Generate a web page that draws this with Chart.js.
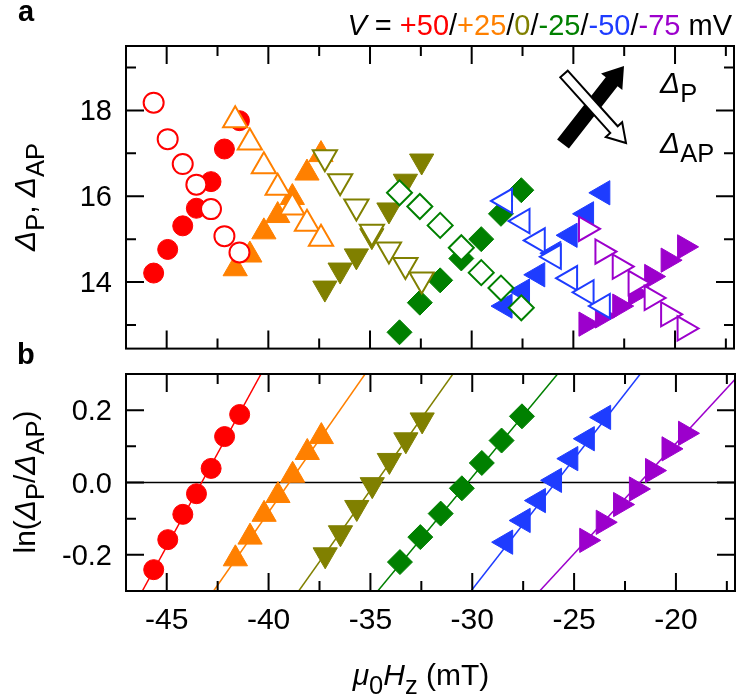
<!DOCTYPE html>
<html>
<head>
<meta charset="utf-8">
<script src="https://cdn.jsdelivr.net/npm/chart.js@4.4.0/dist/chart.umd.min.js"></script>
<style>
  body { margin: 0; background: #fff; width: 750px; height: 698px; position: relative; overflow: hidden;
         font-family: "Liberation Sans", Arial, sans-serif; color: #000; }
  canvas { position: absolute; left: 0; }
  #chartA { top: 0; }
  #chartB { top: 340px; }
  .t { position: absolute; white-space: nowrap; font-size: 30px; line-height: 1; }
  .t sub { font-size: 0.85em; vertical-align: -0.35em; line-height: 0; }
  .rot { transform: translate(-50%, -50%) rotate(-90deg); }
</style>
</head>
<body>
<canvas id="chartA" width="750" height="380"></canvas>
<canvas id="chartB" width="750" height="358"></canvas>

<div class="t" style="left:18px; top:-3px; font-weight:bold; font-size:29px;">a</div>
<div class="t" style="left:17px; top:340px; font-weight:bold; font-size:29px;">b</div>
<div class="t" style="right:18px; top:11px; font-size:29px;"><i>V</i> = <span style="color:#ff0000">+50</span>/<span style="color:#ff8000">+25</span>/<span style="color:#808000">0</span>/<span style="color:#008000">-25</span>/<span style="color:#1e3cff">-50</span>/<span style="color:#9c00cc">-75</span> mV</div>
<div class="t" style="left:660px; top:68px;"><i>Δ</i><sub>P</sub></div>
<div class="t" style="left:660px; top:128px;"><i>Δ</i><sub>AP</sub></div>
<div class="t rot" style="left:25px; top:197px;"><i>Δ</i><sub>P</sub>, <i>Δ</i><sub>AP</sub></div>
<div class="t rot" style="left:25px; top:482px;">ln(<i>Δ</i><sub>P</sub>/<i>Δ</i><sub>AP</sub>)</div>
<div class="t" style="left:421px; top:660px; transform:translateX(-50%);"><i>μ</i><sub>0</sub><i>H</i><sub>z</sub> (mT)</div>

<script>
// axis ticks
const xTicks = [-45, -40, -35, -30, -25, -20];
const xMinor = [-42.5, -37.5, -32.5, -27.5, -22.5, -17.5];
const yTicksA = [14, 16, 18];
const yMinorA = [13, 15, 17, 19];
const yTicksB = [-0.2, 0.0, 0.2];
const yMinorB = [-0.1, 0.1];

// bias voltages V = +50 / +25 / 0 / -25 / -50 / -75 mV
const voltages = ['+50', '+25', '0', '-25', '-50', '-75'];
const colors = ['#ff0000', '#ff8000', '#808000', '#008000', '#1e3cff', '#9c00cc'];
const shapes = ['circle', 'triangle', 'triangle', 'rectRot', 'triangle', 'triangle'];
const rotations = [0, 0, 180, 0, -90, 90];
const radii = [10, 14, 14, 12.5, 14, 14];

// mu0 Hz (mT)
const field50 = [-45.64, -44.95, -44.21, -43.54, -42.82, -42.16, -41.42];
const field25 = [-41.63, -40.91, -40.22, -39.54, -38.82, -38.10, -37.41];
const field0 = [-37.22, -36.47, -35.67, -34.91, -34.07, -33.26, -32.46];
const fieldM25 = [-33.55, -32.55, -31.55, -30.51, -29.53, -28.56, -27.56];
const fieldM50 = [-28.36, -27.50, -26.75, -25.96, -25.16, -24.35, -23.55];
const fieldM75 = [-24.38, -23.57, -22.72, -21.94, -21.15, -20.34, -19.53];

// Delta_P (filled)
const dP50 = [14.21, 14.76, 15.31, 15.72, 16.34, 17.10, 17.76];
const dP25 = [14.31, 14.63, 15.17, 15.55, 15.97, 16.54, 16.97];
const dP0 = [13.86, 14.28, 14.61, 15.08, 15.68, 16.35, 16.82];
const dPM25 = [12.83, 13.52, 14.04, 14.55, 15.00, 15.59, 16.14];
const dPM50 = [13.44, 13.79, 14.17, 14.67, 15.09, 15.59, 16.08];
const dPM75 = [13.02, 13.21, 13.44, 13.73, 14.13, 14.51, 14.82];

// Delta_AP (open)
const dAP50 = [18.18, 17.33, 16.75, 16.27, 15.70, 15.07, 14.69];
const dAP25 = [17.77, 17.25, 16.70, 16.20, 15.74, 15.36, 15.01];
const dAP0 = [16.91, 16.35, 15.76, 15.17, 14.76, 14.40, 14.06];
const dAPM25 = [16.08, 15.76, 15.32, 14.80, 14.22, 13.86, 13.40];
const dAPM50 = [15.89, 15.42, 14.97, 14.59, 14.09, 13.76, 13.44];
const dAPM75 = [15.24, 14.71, 14.36, 13.98, 13.63, 13.25, 12.92];

// ln(Delta_P / Delta_AP)
const ln50 = [-0.241, -0.158, -0.088, -0.031, 0.039, 0.127, 0.188];
const ln25 = [-0.211, -0.151, -0.088, -0.036, 0.020, 0.083, 0.127];
const ln0 = [-0.200, -0.139, -0.069, -0.006, 0.061, 0.118, 0.173];
const lnM25 = [-0.220, -0.151, -0.086, -0.016, 0.054, 0.116, 0.183];
const lnM50 = [-0.165, -0.105, -0.050, 0.006, 0.066, 0.121, 0.180];
const lnM75 = [-0.160, -0.110, -0.061, -0.018, 0.033, 0.093, 0.136];

// linear fits: field at ln = -0.3 and ln = +0.3
const fitY = [-0.3, 0.3];
const fit50 = [-46.20, -40.37];
const fit25 = [-42.70, -35.26];
const fit0 = [-38.52, -30.95];
const fitM25 = [-34.64, -25.81];
const fitM50 = [-30.06, -21.75];
const fitM75 = [-26.69, -16.86];

const fields = [field50, field25, field0, fieldM25, fieldM50, fieldM75];
const dPs = [dP50, dP25, dP0, dPM25, dPM50, dPM75];
const dAPs = [dAP50, dAP25, dAP0, dAPM25, dAPM50, dAPM75];
const lns = [ln50, ln25, ln0, lnM25, lnM50, lnM75];
const fits = [fit50, fit25, fit0, fitM25, fitM50, fitM75];

const FONT = '"Liberation Sans", Arial, sans-serif';

function markers(i, ys, open) {
  return {
    label: voltages[i] + (open ? ' AP' : ' P'),
    data: fields[i].map((x, k) => ({ x: x, y: ys[k] })),
    pointStyle: shapes[i],
    pointRotation: rotations[i],
    pointRadius: radii[i],
    pointHoverRadius: radii[i],
    pointBackgroundColor: open ? '#ffffff' : colors[i],
    pointBorderColor: colors[i],
    pointBorderWidth: open ? 2 : 1,
    showLine: false,
    order: open ? 0 : 1
  };
}

function fitLine(i) {
  return {
    label: voltages[i] + ' fit',
    data: fits[i].map((x, k) => ({ x: x, y: fitY[k] })),
    showLine: true,
    borderColor: colors[i],
    borderWidth: 1.5,
    pointRadius: 0,
    order: 2
  };
}

function drawArrow(ctx, x0, y0, x1, y1, shaftW, headW, headL, fill, stroke) {
  const L = Math.hypot(x1 - x0, y1 - y0);
  const ux = (x1 - x0) / L, uy = (y1 - y0) / L;
  const nx = -uy, ny = ux;
  const bx = x1 - ux * headL, by = y1 - uy * headL;
  ctx.beginPath();
  ctx.moveTo(x0 + nx * shaftW / 2, y0 + ny * shaftW / 2);
  ctx.lineTo(bx + nx * shaftW / 2, by + ny * shaftW / 2);
  ctx.lineTo(bx + nx * headW / 2, by + ny * headW / 2);
  ctx.lineTo(x1, y1);
  ctx.lineTo(bx - nx * headW / 2, by - ny * headW / 2);
  ctx.lineTo(bx - nx * shaftW / 2, by - ny * shaftW / 2);
  ctx.lineTo(x0 - nx * shaftW / 2, y0 - ny * shaftW / 2);
  ctx.closePath();
  ctx.fillStyle = fill;
  ctx.fill();
  if (stroke) {
    ctx.lineWidth = 2;
    ctx.strokeStyle = stroke;
    ctx.lineJoin = 'miter';
    ctx.stroke();
  }
}

// frame with inward ticks on all four sides
const frameTicks = {
  id: 'frameTicks',
  beforeDatasetsDraw(chart, args, o) {
    if (!o.zero) return;
    const { ctx, chartArea: a, scales: { y } } = chart;
    const py = y.getPixelForValue(0);
    ctx.save();
    ctx.strokeStyle = '#000';
    ctx.lineWidth = 1.5;
    ctx.beginPath();
    ctx.moveTo(a.left, py);
    ctx.lineTo(a.right, py);
    ctx.stroke();
    ctx.restore();
  },
  afterDatasetsDraw(chart, args, o) {
    const { ctx, chartArea: a, scales: { x, y } } = chart;
    ctx.save();
    ctx.strokeStyle = '#000';
    ctx.lineWidth = 2;
    ctx.beginPath();
    const xt = (vals, len) => vals.forEach(v => {
      const px = x.getPixelForValue(v);
      ctx.moveTo(px, a.top); ctx.lineTo(px, a.top + len);
      ctx.moveTo(px, a.bottom); ctx.lineTo(px, a.bottom - len);
    });
    const yt = (vals, len) => vals.forEach(v => {
      const py = y.getPixelForValue(v);
      ctx.moveTo(a.left, py); ctx.lineTo(a.left + len, py);
      ctx.moveTo(a.right, py); ctx.lineTo(a.right - len, py);
    });
    xt(o.xMajor, 18); xt(o.xMinor, 10);
    yt(o.yMajor, 18); yt(o.yMinor, 10);
    ctx.stroke();
    ctx.strokeRect(a.left, a.top, a.right - a.left, a.bottom - a.top);
    if (o.arrows) {
      // black arrow (Delta_P) under white arrow (Delta_AP)
      drawArrow(ctx, a.right - 171, a.top + 98, a.right - 110, a.top + 20, 15, 27, 20, '#000', null);
      drawArrow(ctx, a.right - 170, a.top + 28, a.right - 108, a.top + 97, 10, 22, 18, '#fff', '#000');
    }
    ctx.restore();
  }
};

function baseOptions(yMin, yMax, yMajor, yMinor, yFmt, padding, showX) {
  return {
    responsive: false,
    animation: false,
    events: [],
    devicePixelRatio: 1,
    layout: { padding: padding },
    plugins: {
      legend: { display: false },
      tooltip: { enabled: false },
      frameTicks: { xMajor: xTicks, xMinor: xMinor, yMajor: yMajor, yMinor: yMinor, zero: false, arrows: false }
    },
    scales: {
      x: {
        type: 'linear', min: -47, max: -17.1,
        display: showX,
        grid: { display: false, drawTicks: false },
        border: { display: false },
        afterBuildTicks: s => { s.ticks = xTicks.map(v => ({ value: v })); },
        ticks: { color: '#000', padding: 12, font: { family: FONT, size: 30 }, callback: v => String(v) },
        afterFit: s => { if (showX) s.height = 107; }
      },
      y: {
        min: yMin, max: yMax,
        grid: { display: false, drawTicks: false },
        border: { display: false },
        afterBuildTicks: s => { s.ticks = yMajor.map(v => ({ value: v })); },
        ticks: { color: '#000', padding: 14, labelOffset: 2, font: { family: FONT, size: 29 }, callback: yFmt },
        afterFit: s => { s.width = 126; }
      }
    }
  };
}

// panel a
const optsA = baseOptions(12.45, 19.5, yTicksA, yMinorA, v => String(v), { top: 46, bottom: 27, right: 2, left: 0 }, false);
optsA.plugins.frameTicks.arrows = true;
const dataA = [];
for (let i = 0; i < 6; i++) dataA.push(markers(i, dPs[i], false));
for (let i = 0; i < 6; i++) dataA.push(markers(i, dAPs[i], true));
new Chart(document.getElementById('chartA'), { type: 'scatter', data: { datasets: dataA }, options: optsA, plugins: [frameTicks] });

// panel b
const optsB = baseOptions(-0.3, 0.3, yTicksB, yMinorB, v => Number(v).toFixed(1), { top: 34, bottom: 0, right: 2, left: 0 }, true);
optsB.plugins.frameTicks.zero = true;
const dataB = [];
for (let i = 0; i < 6; i++) dataB.push(markers(i, lns[i], false));
for (let i = 0; i < 6; i++) dataB.push(fitLine(i));
new Chart(document.getElementById('chartB'), { type: 'scatter', data: { datasets: dataB }, options: optsB, plugins: [frameTicks] });
</script>
</body>
</html>
